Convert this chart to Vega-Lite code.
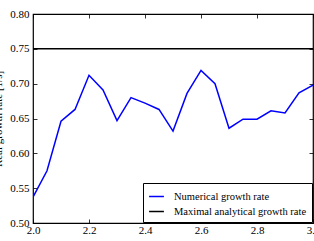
{
  "$schema": "https://vega.github.io/schema/vega-lite/v6.json",
  "width": 280,
  "height": 209,
  "autosize": "none",
  "padding": {"left": 33, "top": 14, "right": 1, "bottom": 18},
  "background": "white",
  "config": {
    "font": "Liberation Serif, Times New Roman, serif",
    "view": {"stroke": "black", "strokeWidth": 1.2},
    "axis": {"grid": false, "labelFlush": false, "labelFont": "Liberation Serif, Times New Roman, serif", "labelFontSize": 11, "labelColor": "black", "titleFont": "Liberation Serif, Times New Roman, serif", "titleFontSize": 11, "titleFontWeight": "normal", "titleColor": "black", "domainColor": "black", "tickColor": "black", "tickSize": -4, "tickWidth": 0.8},
    "legend": {"labelFont": "Liberation Serif, Times New Roman, serif"}
  },
  "datasets": {
    "lines": [
      {"x": 2.0, "y": 0.537, "series": "Numerical growth rate"},
      {"x": 2.05, "y": 0.575, "series": "Numerical growth rate"},
      {"x": 2.1, "y": 0.646, "series": "Numerical growth rate"},
      {"x": 2.15, "y": 0.663, "series": "Numerical growth rate"},
      {"x": 2.2, "y": 0.712, "series": "Numerical growth rate"},
      {"x": 2.25, "y": 0.691, "series": "Numerical growth rate"},
      {"x": 2.3, "y": 0.647, "series": "Numerical growth rate"},
      {"x": 2.35, "y": 0.680, "series": "Numerical growth rate"},
      {"x": 2.4, "y": 0.672, "series": "Numerical growth rate"},
      {"x": 2.45, "y": 0.663, "series": "Numerical growth rate"},
      {"x": 2.5, "y": 0.632, "series": "Numerical growth rate"},
      {"x": 2.55, "y": 0.686, "series": "Numerical growth rate"},
      {"x": 2.6, "y": 0.719, "series": "Numerical growth rate"},
      {"x": 2.65, "y": 0.700, "series": "Numerical growth rate"},
      {"x": 2.7, "y": 0.636, "series": "Numerical growth rate"},
      {"x": 2.75, "y": 0.649, "series": "Numerical growth rate"},
      {"x": 2.8, "y": 0.649, "series": "Numerical growth rate"},
      {"x": 2.85, "y": 0.661, "series": "Numerical growth rate"},
      {"x": 2.9, "y": 0.658, "series": "Numerical growth rate"},
      {"x": 2.95, "y": 0.687, "series": "Numerical growth rate"},
      {"x": 3.0, "y": 0.698, "series": "Numerical growth rate"},
      {"x": 2.0, "y": 0.75, "series": "Maximal analytical growth rate"},
      {"x": 3.0, "y": 0.75, "series": "Maximal analytical growth rate"}
    ]
  },
  "data": {"name": "lines"},
  "layer": [
    {
      "mark": {"type": "line", "strokeWidth": 1.5, "clip": true},
      "encoding": {
        "x": {"field": "x", "type": "quantitative", "scale": {"domain": [2.0, 3.0], "nice": false, "zero": false},
          "axis": {"orient": "bottom", "title": null, "values": [2.0, 2.2, 2.4, 2.6, 2.8, 3.0], "format": ".1f", "labelPadding": 5, "labelFlush": false, "domain": false}},
        "y": {"field": "y", "type": "quantitative", "scale": {"domain": [0.5, 0.8], "nice": false, "zero": false},
          "axis": {"orient": "left", "title": "Real growth rate [1/s]", "titleX": -30, "values": [0.5, 0.55, 0.6, 0.65, 0.7, 0.75, 0.8], "format": ".2f", "labelPadding": 8, "labelFlush": false, "domain": false}},
        "color": {"field": "series", "type": "nominal",
          "scale": {"domain": ["Numerical growth rate", "Maximal analytical growth rate"], "range": ["#0000ff", "#000000"]},
          "legend": {"title": null, "orient": "bottom-right", "offset": 1, "symbolType": "stroke", "symbolStrokeWidth": 1.5, "symbolSize": 220, "labelFont": "Liberation Serif, Times New Roman, serif", "labelFontSize": 10.5, "labelColor": "black", "labelOffset": 9, "strokeColor": "black", "fillColor": "white", "padding": 5, "rowPadding": 1, "cornerRadius": 0}}
      }
    },
    {
      "mark": {"type": "line", "opacity": 0},
      "encoding": {
        "x": {"field": "x", "type": "quantitative", "scale": {"domain": [2.0, 3.0], "nice": false, "zero": false},
          "axis": {"orient": "top", "title": null, "labels": false, "values": [2.0, 2.2, 2.4, 2.6, 2.8, 3.0], "domain": false}},
        "y": {"field": "y", "type": "quantitative", "scale": {"domain": [0.5, 0.8], "nice": false, "zero": false},
          "axis": {"orient": "right", "title": null, "labels": false, "values": [0.5, 0.55, 0.6, 0.65, 0.7, 0.75, 0.8], "domain": false}}
      }
    }
  ],
  "resolve": {"axis": {"x": "independent", "y": "independent"}}
}
